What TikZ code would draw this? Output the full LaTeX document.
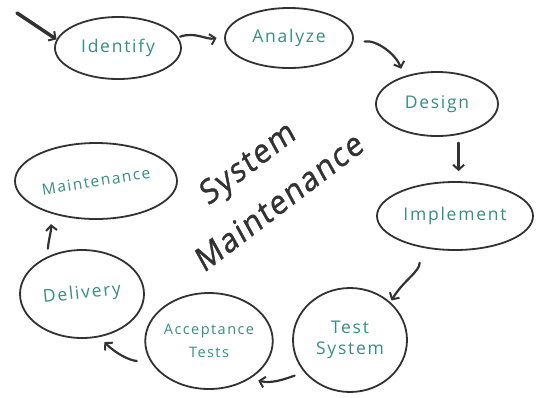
\documentclass[tikz,border=0pt]{standalone}
\usepackage{fontspec}
\usetikzlibrary{shapes.geometric,arrows.meta}
\newfontfamily\handfont{Open Sans}[LetterSpace=10]
\newfontfamily\bigfont{Open Sans}[LetterSpace=6,FakeBold=1.2]
\definecolor{ink}{RGB}{50,50,50}
\definecolor{tealink}{RGB}{55,142,132}
\begin{document}
\begin{tikzpicture}[x=1pt,y=-1pt,
  stage/.style={ellipse, draw=ink, line width=1.8pt, inner sep=0pt, text=tealink,
    font=\handfont\fontsize{17.5}{21}\selectfont, align=center},
  arr/.style={draw=ink, line width=2.2pt, line cap=round,
    -{Straight Barb[length=5pt,width=11pt,line width=2pt]}},
  title/.style={text=ink, font=\bigfont\fontsize{34}{40}\selectfont, inner sep=0pt, xscale=0.85, rotate=33}]
\fill[white] (0,0) rectangle (540,397);
\useasboundingbox (0,0) rectangle (540,397);
\node[stage, minimum width=126pt, minimum height=62pt] (identify) at (118,48) {Identify};
\node[stage, minimum width=128pt, minimum height=60pt] (analyze) at (289,38) {Analyze};
\node[stage, minimum width=122pt, minimum height=64pt] (design) at (437,104) {Design};
\node[stage, minimum width=156pt, minimum height=68pt] (implement) at (455,216) {Implement};
\node[stage, minimum width=114pt, minimum height=104pt] (test) at (350,340) {Test\\System};
\node[stage, minimum width=118pt, minimum height=96pt, font=\handfont\fontsize{14.5}{23}\selectfont] (accept) at (209,341) {Acceptance\\Tests};
\node[stage, minimum width=124pt, minimum height=88pt] (delivery) at (82,294) {\rotatebox{6}{Delivery}};
\node[stage, minimum width=162pt, minimum height=76pt, font=\handfont\fontsize{15.5}{18}\selectfont] (maint) at (96,181) {\rotatebox{9}{Maintenance}};
\node[title] (system) at (249,165) {System};
\node[title] (maintenance) at (279,201) {Maintenance};
\coordinate (start) at (17,13);
\draw[arr, line width=3.5pt] (start) -- (identify.172);
\draw[arr, shorten <=2pt, shorten >=8pt] (identify.10) to[out=20, in=195] (analyze.178);
\draw[arr, shorten <=12pt, shorten >=8pt] (analyze.-5) to[out=10, in=110] (design.140);
\draw[arr, shorten <=8pt, shorten >=10pt] (design.-55) -- (design.-55 |- implement.north);
\draw[arr, shorten <=16pt, shorten >=2pt] (implement.-140) to[out=-85, in=60] (test.43);
\draw[arr, shorten <=10pt, shorten >=8pt] (test.215) to[out=200, in=-15] (accept.-42);
\draw[arr, shorten <=14pt, shorten >=7pt] (accept.200) to[out=175, in=-45] (delivery.-68);
\draw[arr, shorten <=8pt, shorten >=11pt] (delivery.133) to[out=85, in=-85] (maint.215);
\end{tikzpicture}
\end{document}
